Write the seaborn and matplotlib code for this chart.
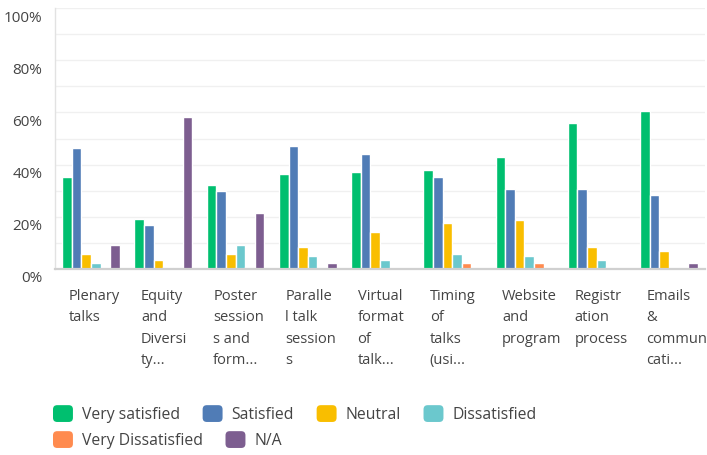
import matplotlib
matplotlib.use("Agg")
import matplotlib.pyplot as plt
import matplotlib.transforms as mtransforms
from matplotlib.patches import Patch, FancyBboxPatch
from matplotlib.legend_handler import HandlerPatch
import seaborn as sns
import numpy as np
import pandas as pd

# --- DATA (in %) ---
categories = [
    "Plenary\ntalks",
    "Equity\nand\nDiversi\nty...",
    "Poster\nsession\ns and\nform...",
    "Paralle\nl talk\nsession\ns",
    "Virtual\nformat\nof\ntalk...",
    "Timing\nof\ntalks\n(usi...",
    "Website\nand\nprogram",
    "Registr\nation\nprocess",
    "Emails\n&\ncommuni\ncati...",
]
responses = ["Very satisfied", "Satisfied", "Neutral", "Dissatisfied",
             "Very Dissatisfied", "N/A"]

very_satisfied    = [35.4, 19.2, 32.1, 36.5, 37.3, 38.1, 43.1, 55.8, 60.4]
satisfied         = [46.5, 16.9, 30.0, 47.3, 44.2, 35.4, 30.8, 30.8, 28.5]
neutral           = [5.8, 3.5, 5.8, 8.5, 14.2, 17.7, 18.8, 8.5, 6.9]
dissatisfied      = [2.3, 0.8, 9.1, 5.0, 3.5, 5.6, 5.0, 3.5, 0.0]
very_dissatisfied = [0.0, 0.8, 0.8, 0.0, 0.0, 2.3, 2.3, 0.8, 0.8]
not_applicable    = [9.1, 58.2, 21.5, 2.3, 0.0, 0.0, 0.0, 0.0, 2.3]

colors = ["#00BF6F", "#507CB6", "#F9BE00", "#6BC8CD", "#FF8B4F", "#7D5E90"]

series = [very_satisfied, satisfied, neutral, dissatisfied,
          very_dissatisfied, not_applicable]
rows = []
for resp, vals in zip(responses, series):
    for cat, v in zip(categories, vals):
        rows.append({"category": cat, "response": resp, "pct": v})
df = pd.DataFrame(rows)

# --- PLOT ---
sns.set_style("white")
plt.rcParams["font.family"] = ["Open Sans", "DejaVu Sans"]
TEXT = "#444444"

fig = plt.figure(figsize=(7.07, 4.55), dpi=100)
ax = fig.add_axes([55 / 707, 186 / 455, 650 / 707, 261 / 455])

sns.barplot(data=df, x="category", y="pct", hue="response",
            order=categories, hue_order=responses, palette=colors,
            width=0.8, saturation=1, ax=ax, legend=False)

ax.set_xlim(-0.5, len(categories) - 0.5)
ax.set_ylim(0, 100)
ax.set_xlabel("")
ax.set_ylabel("")

# y axis: labels every 20%, grid every 10%
ax.set_yticks(np.arange(0, 101, 20))
ax.set_yticks(np.arange(10, 100, 20), minor=True)
ax.set_yticklabels([f"{t}%" for t in range(0, 101, 20)],
                   fontsize=11, color=TEXT)
ax.tick_params(axis="y", which="both", length=0, pad=9)
offset = mtransforms.ScaledTranslation(0, -8 / 100, fig.dpi_scale_trans)
for lab in ax.get_yticklabels():
    lab.set_transform(lab.get_transform() + offset)

ax.grid(axis="y", which="both", color="#f0f0f0", lw=1)
ax.set_axisbelow(True)

# wrapped category labels, left aligned under each group
ax.set_xticks([])
trans = mtransforms.blended_transform_factory(ax.transData, ax.transAxes)
for i, cat in enumerate(categories):
    ax.text(i - 0.31, -20 / 261, cat, transform=trans, ha="left", va="top",
            fontsize=10.5, color=TEXT, linespacing=1.58)

for s in ["top", "right"]:
    ax.spines[s].set_visible(False)
ax.spines["left"].set_color("#e2e2e2")
ax.spines["left"].set_linewidth(1)
ax.spines["bottom"].set_color("#d0d0d0")
ax.spines["bottom"].set_linewidth(1.6)


def rounded(legend, orig_handle, xdescent, ydescent, width, height, fontsize):
    return FancyBboxPatch((-xdescent, -ydescent), width, height,
                          boxstyle="round,pad=0,rounding_size=3")


handles = [Patch(facecolor=c, edgecolor="none", label=r)
           for c, r in zip(colors, responses)]
legend_kw = dict(loc="center left", frameon=False, fontsize=11.3,
                 handlelength=1.27, handleheight=1.27, handletextpad=0.57,
                 columnspacing=1.45, borderpad=0, borderaxespad=0,
                 labelcolor=TEXT,
                 handler_map={Patch: HandlerPatch(patch_func=rounded)})
fig.legend(handles=handles[:4], ncol=4,
           bbox_to_anchor=(53 / 707, 1 - 414 / 455), **legend_kw)
fig.legend(handles=handles[4:], ncol=2,
           bbox_to_anchor=(53 / 707, 1 - 440 / 455), **legend_kw)

fig.savefig("out.png", dpi=100)
